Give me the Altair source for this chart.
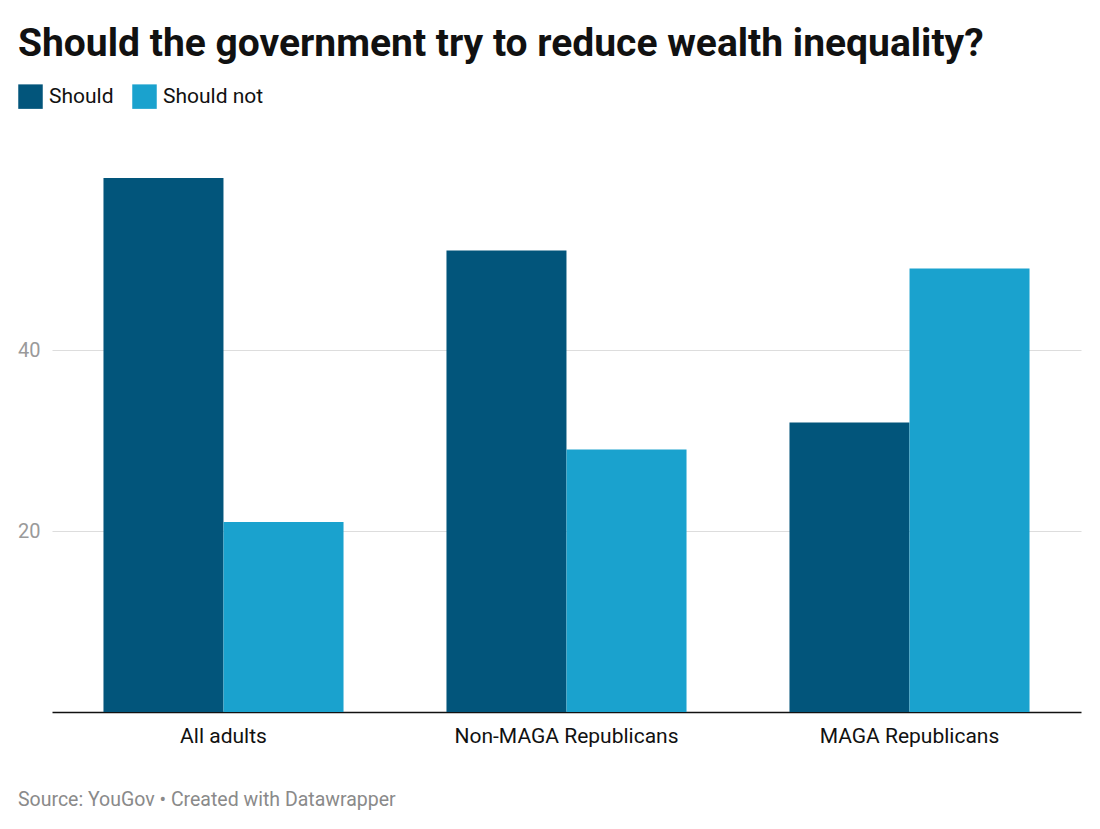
import altair as alt
import pandas as pd

groups = ["All adults", "Non-MAGA Republicans", "MAGA Republicans"]
answers = ["Should", "Should not"]
should = [59, 51, 32]
should_not = [21, 29, 49]
y_ticks = [20, 40]
source_note = "Source: YouGov • Created with Datawrapper"
colors = ["#02557b", "#1aa2ce"]

rows = []
for g, s, sn in zip(groups, should, should_not):
    rows.append({"group": g, "answer": answers[0], "value": s})
    rows.append({"group": g, "answer": answers[1], "value": sn})
df = pd.DataFrame(rows)

FONT = "Roboto"

bars = alt.Chart(df).mark_bar(size=120).encode(
    x=alt.X(
        "group:N",
        sort=groups,
        title=None,
        scale=alt.Scale(paddingInner=0.3, paddingOuter=0.15),
        axis=alt.Axis(
            labelAngle=0, labelFontSize=21, labelColor="#111", labelFont=FONT,
            labelPadding=13, labelLimit=400, ticks=False, domainColor="#111",
            domainWidth=1.5, grid=False,
        ),
    ),
    xOffset=alt.XOffset("answer:N", sort=answers),
    y=alt.Y(
        "value:Q",
        title=None,
        scale=alt.Scale(domain=[0, 60], nice=False),
        axis=alt.Axis(
            values=y_ticks, labelFontSize=20, labelColor="#9a9a9a", labelFont=FONT,
            ticks=False, domain=False, labelPadding=12, gridColor="#dddddd",
            gridWidth=1,
        ),
    ),
    color=alt.Color(
        "answer:N",
        sort=answers,
        scale=alt.Scale(domain=answers, range=colors),
        legend=alt.Legend(
            title=None, orient="none", legendX=-34, legendY=-85,
            direction="horizontal", symbolType="square", symbolSize=600,
            symbolStrokeWidth=0, labelFontSize=21, labelFont=FONT,
            labelColor="#111", columnPadding=18, labelOffset=6,
            symbolOpacity=1,
        ),
    ),
)

note = alt.Chart(pd.DataFrame({"t": [source_note]})).mark_text(
    align="left", baseline="alphabetic", fontSize=19.5, font=FONT, color="#8a8a8a"
).encode(text="t:N", x=alt.value(-34), y=alt.value(637))

chart = alt.layer(bars, note).properties(
    width=1029,
    height=543,
    autosize=alt.AutoSizeParams(type="none"),
    padding={"left": 52, "top": 169, "right": 19, "bottom": 117},
    title=alt.TitleParams(
        "Should the government try to reduce wealth inequality?",
        anchor="start", frame="group", dx=-34, offset=20,
        fontSize=39, font=FONT, fontWeight="bold", color="#111",
    ),
).configure_view(stroke=None)

chart.save("out.html", embed_options={"renderer": "svg", "actions": False})
